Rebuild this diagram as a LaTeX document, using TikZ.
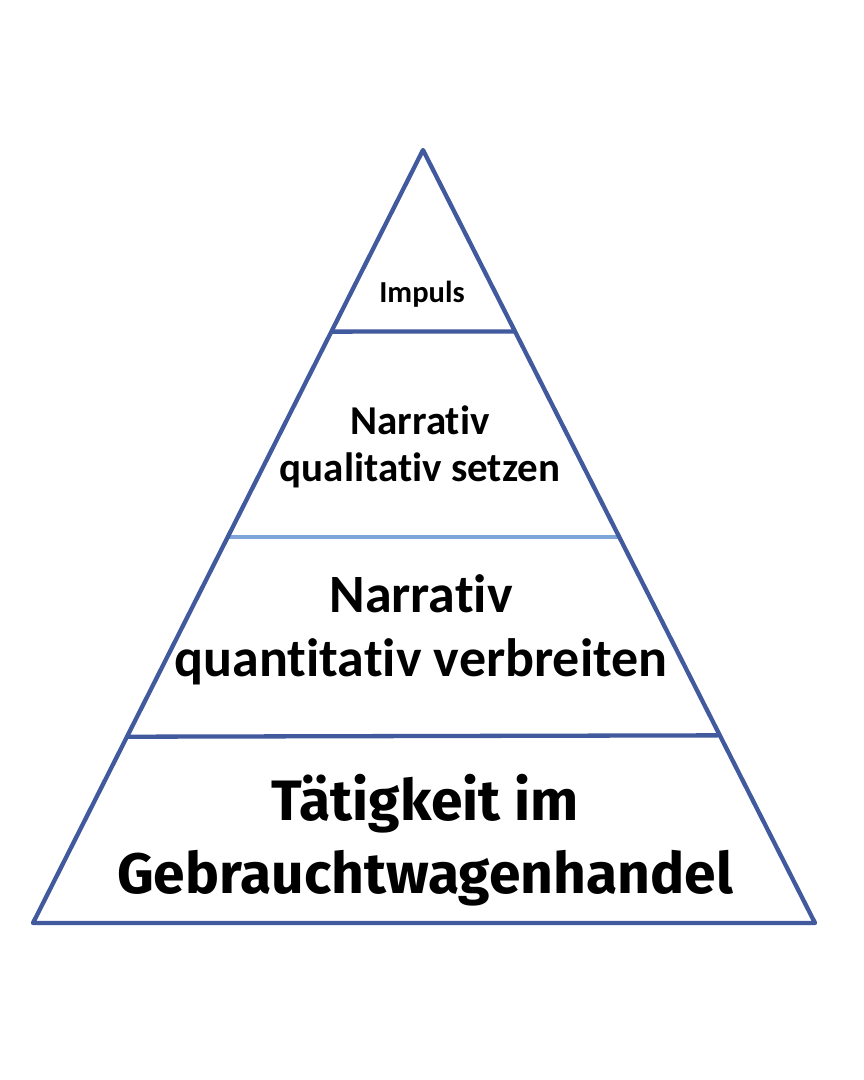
\documentclass[tikz,border=0pt]{standalone}
\usepackage{fontspec}
\setmainfont{Carlito}[Ligatures=NoCommon]
\newfontfamily\basefont{Fira Sans}
\definecolor{pyrblue}{HTML}{41599D}
\definecolor{pyrlight}{HTML}{7DA5D9}
\tikzset{
x=1pt, y=-1pt, % one unit is one pixel of the picture
edge/.style={draw=pyrblue, line width=4.3pt, line join=round}, % outline and dividers
layer/.style={align=center, text=black}, % the texts inside the levels
}

\begin{document}
\begin{tikzpicture}
        \useasboundingbox[fill=white] (0,0) rectangle (864,1080);
        \coordinate (top) at (423,150);
        \coordinate (bl) at (33,923);
        \coordinate (br) at (815,923);
        % dividers
        \scope
        \clip (top) -- (bl) -- (br) -- cycle;
        \draw[edge] (0,332) -- (864,331);
        \draw[edge, draw=pyrlight] (0,537) -- (864,537);
        \draw[edge] (0,737) -- (864,735);
        \endscope
        % outline
        \draw[edge] (top) -- (bl) -- (br) -- cycle;
        % texts
        \node[layer, font=\bfseries\fontsize{30.5}{34}\selectfont] (impuls) at (422,294) {Impuls};
        \node[layer, font=\bfseries\fontsize{41}{47}\selectfont] (qualitativ) at (420,447) {Narrativ\\qualitativ setzen};
        \node[layer, font=\bfseries\fontsize{54}{64}\selectfont] (quantitativ) at (421,630) {Narrativ\\quantitativ verbreiten};
        \node[layer, font=\basefont\bfseries\fontsize{57}{73}\selectfont] (handel) at (425,840) {Tätigkeit im\\Gebrauchtwagenhandel};
    \end{tikzpicture}
\end{document}
